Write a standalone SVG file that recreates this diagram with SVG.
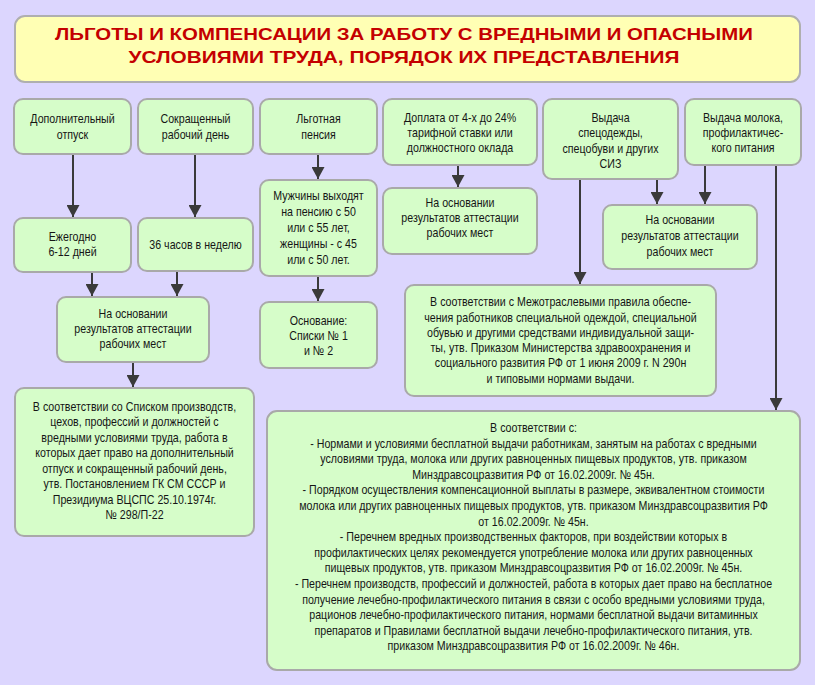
<svg xmlns="http://www.w3.org/2000/svg" width="815" height="685" viewBox="0 0 815 685">
<style>
.bg{fill:#DCD6FE}
.box{fill:#D6FDC9;stroke:#A9A9A9;stroke-width:2}
.tbox{fill:#FFFFB4;stroke:#AFAFAF;stroke-width:2}
.t{font-family:"Liberation Sans",Arial,sans-serif;font-size:13px;fill:#151515;text-anchor:middle}
.title{font-family:"Liberation Sans",Arial,sans-serif;font-size:16.5px;font-weight:bold;fill:#C40000;text-anchor:middle}
.c{stroke:#3A3A3A;stroke-width:2;fill:none}
</style>
<defs>
<marker id="ah" markerUnits="userSpaceOnUse" markerWidth="13" markerHeight="13" refX="12" refY="6.5" orient="auto">
<path d="M0,0 L12,6.5 L0,13 z" fill="#3A3A3A"/>
</marker>
</defs>
<rect class="bg" x="0" y="0" width="815" height="685"/>

<g id="title">
<rect class="tbox" x="15" y="16" width="785" height="66" rx="10"/>
<text class="title" x="404" y="39.5" textLength="698" lengthAdjust="spacingAndGlyphs">ЛЬГОТЫ И КОМПЕНСАЦИИ ЗА РАБОТУ С ВРЕДНЫМИ И ОПАСНЫМИ</text>
<text class="title" x="404" y="62.5" textLength="551" lengthAdjust="spacingAndGlyphs">УСЛОВИЯМИ ТРУДА, ПОРЯДОК ИХ ПРЕДСТАВЛЕНИЯ</text>
</g>

<g id="connectors">
<line class="c" x1="73" y1="154" x2="73" y2="217" marker-end="url(#ah)"/>
<line class="c" x1="195" y1="154" x2="195" y2="217" marker-end="url(#ah)"/>
<line class="c" x1="318" y1="154" x2="318" y2="179" marker-end="url(#ah)"/>
<line class="c" x1="92" y1="272" x2="92" y2="296" marker-end="url(#ah)"/>
<line class="c" x1="177" y1="271" x2="177" y2="296" marker-end="url(#ah)"/>
<line class="c" x1="318" y1="276" x2="318" y2="301" marker-end="url(#ah)"/>
<line class="c" x1="133" y1="362" x2="133" y2="387" marker-end="url(#ah)"/>
<line class="c" x1="458" y1="165" x2="458" y2="187" marker-end="url(#ah)"/>
<line class="c" x1="580" y1="179" x2="580" y2="284" marker-end="url(#ah)"/>
<line class="c" x1="657" y1="179" x2="657" y2="204" marker-end="url(#ah)"/>
<line class="c" x1="705" y1="165" x2="705" y2="204" marker-end="url(#ah)"/>
<line class="c" x1="776" y1="165" x2="776" y2="410" marker-end="url(#ah)"/>
</g>

<g id="dop-otpusk">
<rect class="box" x="14" y="99" width="117" height="55" rx="9"/>
<g transform="translate(72.5,0) scale(0.82,1)"><text class="t" x="0" y="123">Дополнительный</text><text class="t" x="0" y="139">отпуск</text></g>
</g>
<g id="sokr-den">
<rect class="box" x="138" y="99" width="115" height="55" rx="9"/>
<g transform="translate(195.5,0) scale(0.82,1)"><text class="t" x="0" y="123">Сокращенный</text><text class="t" x="0" y="139">рабочий день</text></g>
</g>
<g id="lg-pensia">
<rect class="box" x="260" y="99" width="117" height="55" rx="9"/>
<g transform="translate(318.5,0) scale(0.82,1)"><text class="t" x="0" y="123">Льготная</text><text class="t" x="0" y="139">пенсия</text></g>
</g>
<g id="doplata">
<rect class="box" x="383" y="99" width="154" height="66" rx="9"/>
<g transform="translate(460,0) scale(0.82,1)"><text class="t" x="0" y="122">Доплата от 4-х до 24%</text><text class="t" x="0" y="137">тарифной ставки или</text><text class="t" x="0" y="152">должностного оклада</text></g>
</g>
<g id="siz">
<rect class="box" x="543" y="99" width="135" height="80" rx="9"/>
<g transform="translate(610.5,0) scale(0.82,1)"><text class="t" x="0" y="122">Выдача</text><text class="t" x="0" y="137.5">спецодежды,</text><text class="t" x="0" y="153">спецобуви и других</text><text class="t" x="0" y="168.5">СИЗ</text></g>
</g>
<g id="moloko">
<rect class="box" x="685" y="99" width="116" height="66" rx="9"/>
<g transform="translate(743,0) scale(0.82,1)"><text class="t" x="0" y="122">Выдача молока,</text><text class="t" x="0" y="137">профилактичес-</text><text class="t" x="0" y="152">кого питания</text></g>
</g>

<g id="ezhegodno">
<rect class="box" x="14" y="218" width="117" height="54" rx="9"/>
<g transform="translate(72.5,0) scale(0.82,1)"><text class="t" x="0" y="241">Ежегодно</text><text class="t" x="0" y="256">6-12 дней</text></g>
</g>
<g id="chasov36">
<rect class="box" x="138" y="218" width="115" height="53" rx="9"/>
<g transform="translate(195.5,0) scale(0.82,1)"><text class="t" x="0" y="249">36 часов в неделю</text></g>
</g>
<g id="muzhchiny">
<rect class="box" x="260" y="180" width="117" height="96" rx="9"/>
<g transform="translate(318.5,0) scale(0.82,1)"><text class="t" x="0" y="200.5">Мужчины выходят</text><text class="t" x="0" y="216.5">на пенсию с 50</text><text class="t" x="0" y="232.5">или с 55 лет,</text><text class="t" x="0" y="248.5">женщины - с 45</text><text class="t" x="0" y="264.5">или с 50 лет.</text></g>
</g>
<g id="osn-d">
<rect class="box" x="383" y="188" width="154" height="66" rx="9"/>
<g transform="translate(460,0) scale(0.82,1)"><text class="t" x="0" y="207.5">На основании</text><text class="t" x="0" y="222.5">результатов аттестации</text><text class="t" x="0" y="237.5">рабочих мест</text></g>
</g>
<g id="osn-right">
<rect class="box" x="603" y="205" width="154" height="64" rx="9"/>
<g transform="translate(680,0) scale(0.82,1)"><text class="t" x="0" y="224">На основании</text><text class="t" x="0" y="240">результатов аттестации</text><text class="t" x="0" y="256">рабочих мест</text></g>
</g>
<g id="osn-left">
<rect class="box" x="57" y="297" width="152" height="65" rx="9"/>
<g transform="translate(133,0) scale(0.82,1)"><text class="t" x="0" y="318">На основании</text><text class="t" x="0" y="333">результатов аттестации</text><text class="t" x="0" y="348">рабочих мест</text></g>
</g>
<g id="spiski">
<rect class="box" x="260" y="302" width="117" height="66" rx="9"/>
<g transform="translate(318.5,0) scale(0.82,1)"><text class="t" x="0" y="325">Основание:</text><text class="t" x="0" y="340">Списки № 1</text><text class="t" x="0" y="355">и № 2</text></g>
</g>
<g id="mezhotrasl">
<rect class="box" x="405" y="285" width="311" height="111" rx="9"/>
<g transform="translate(560.5,0) scale(0.82,1)">
<text class="t" x="0" y="306.5">В соответствии с Межотраслевыми правила обеспе-</text>
<text class="t" x="0" y="321.7">чения работников специальной одеждой, специальной</text>
<text class="t" x="0" y="337">обувью и другими средствами индивидуальной защи-</text>
<text class="t" x="0" y="352.2">ты, утв. Приказом Министерства здравоохранения и</text>
<text class="t" x="0" y="367.4">социального развития РФ от 1 июня 2009 г. N 290н</text>
<text class="t" x="0" y="382.6">и типовыми нормами выдачи.</text>
</g>
</g>
<g id="spisok">
<rect class="box" x="15" y="388" width="239" height="148" rx="9"/>
<g transform="translate(134.5,0) scale(0.82,1)">
<text class="t" x="0" y="411">В соответствии со Списком производств,</text>
<text class="t" x="0" y="426.5">цехов, профессий и должностей с</text>
<text class="t" x="0" y="442">вредными условиями труда, работа в</text>
<text class="t" x="0" y="457.5">которых дает право на дополнительный</text>
<text class="t" x="0" y="473">отпуск и сокращенный рабочий день,</text>
<text class="t" x="0" y="488.5">утв. Постановлением ГК СМ СССР и</text>
<text class="t" x="0" y="504">Президиума ВЦСПС 25.10.1974г.</text>
<text class="t" x="0" y="519.5">№ 298/П-22</text>
</g>
</g>
<g id="normy">
<rect class="box" x="267" y="411" width="533" height="259" rx="10"/>
<g transform="translate(533.5,0) scale(0.82,1)">
<text class="t" x="0" y="432">В соответствии с:</text>
<text class="t" x="0" y="447.6">- Нормами и условиями бесплатной выдачи работникам, занятым на работах с вредными</text>
<text class="t" x="0" y="463.2">условиями труда, молока или других равноценных пищевых продуктов, утв. приказом</text>
<text class="t" x="0" y="478.8">Минздравсоцразвития РФ от 16.02.2009г. № 45н.</text>
<text class="t" x="0" y="494.4">- Порядком осуществления компенсационной выплаты в размере, эквивалентном стоимости</text>
<text class="t" x="0" y="510">молока или других равноценных пищевых продуктов, утв. приказом Минздравсоцразвития РФ</text>
<text class="t" x="0" y="525.6">от 16.02.2009г. № 45н.</text>
<text class="t" x="0" y="541.2">- Перечнем вредных производственных факторов, при воздействии которых в</text>
<text class="t" x="0" y="556.8">профилактических целях рекомендуется употребление молока или других равноценных</text>
<text class="t" x="0" y="572.4">пищевых продуктов, утв. приказом Минздравсоцразвития РФ от 16.02.2009г. № 45н.</text>
<text class="t" x="0" y="588">- Перечнем производств, профессий и должностей, работа в которых дает право на бесплатное</text>
<text class="t" x="0" y="603.6">получение лечебно-профилактического питания в связи с особо вредными условиями труда,</text>
<text class="t" x="0" y="619.2">рационов лечебно-профилактического питания, нормами бесплатной выдачи витаминных</text>
<text class="t" x="0" y="634.8">препаратов и Правилами бесплатной выдачи лечебно-профилактического питания, утв.</text>
<text class="t" x="0" y="650.4">приказом Минздравсоцразвития РФ от 16.02.2009г. № 46н.</text>
</g>
</g>
</svg>
